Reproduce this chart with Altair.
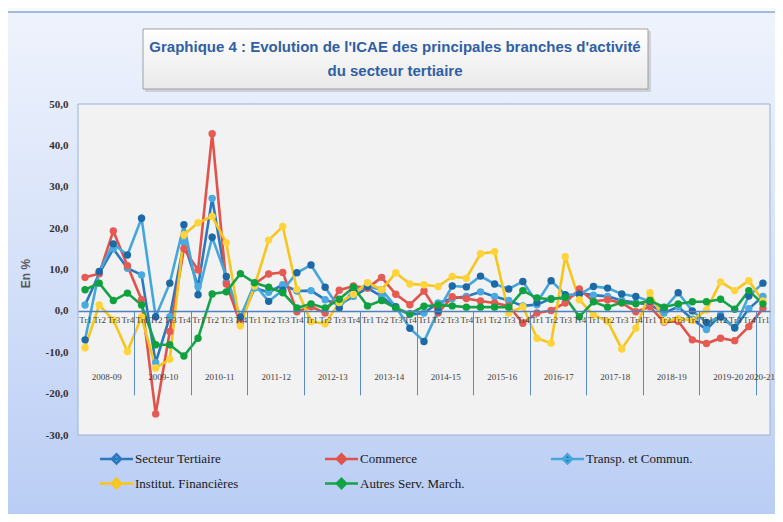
import altair as alt
import pandas as pd

# ---------------- data ----------------
years = ["2008-09", "2009-10", "2010-11", "2011-12", "2012-13", "2013-14",
         "2014-15", "2015-16", "2016-17", "2017-18", "2018-19", "2019-20", "2020-21"]
quarters = ["Tr1", "Tr2", "Tr3", "Tr4"]
series = ["Secteur Tertiaire", "Commerce", "Transp. et Commun.",
          "Institut. Financières", "Autres Serv. March."]

secteur_tertiaire = [1.4, 9.0, 15.0, 10.3, 8.7, -12.5, -1.4, 16.5, 5.9, 27.2, 7.0, -2.5,
                     5.5, 4.5, 6.3, 4.8, 4.9, 2.7, 1.5, 3.5, 5.5, 3.5, 0.7, -0.9,
                     -0.5, 1.9, 3.0, 3.5, 4.6, 3.5, 2.5, 1.2, 1.5, 3.0, 3.0, 4.3,
                     3.8, 3.5, 2.5, 2.0, 1.5, -0.5, 1.0, -2.0, -4.5, -1.0, -4.2, 0.5, 3.5]
commerce = [8.1, 9.0, 19.3, 10.9, 2.7, -24.9, -5.0, 15.0, 9.9, 42.8, 6.5, -3.0,
            6.5, 8.9, 9.3, -0.2, 1.0, -0.5, 5.0, 6.0, 5.5, 8.1, 4.0, 1.5,
            4.8, -0.5, 3.4, 3.0, 2.4, 1.9, 1.2, -3.0, -0.5, 0.1, 1.9, 5.3,
            2.3, 2.7, 1.9, -0.2, 1.0, -2.7, -2.5, -7.0, -7.9, -6.6, -7.2, -3.8, 0.6]
transp_commun = [-7.0, 9.5, 16.2, 13.5, 22.4, -1.4, 6.7, 20.8, 3.9, 17.8, 8.3, -1.5,
                 6.5, 2.3, 5.0, 9.2, 11.1, 5.7, 0.7, 5.0, 5.9, 5.1, 1.0, -4.2,
                 -7.4, 0.0, 6.0, 5.8, 8.4, 6.5, 5.3, 7.1, 2.0, 7.3, 3.9, 4.0,
                 5.9, 5.5, 4.1, 3.5, 2.3, 0.5, 4.4, 0.0, -2.8, -1.5, -4.0, 3.6, 6.7]
institut_fin = [-8.9, 1.4, -2.2, -9.8, -1.5, -13.8, -11.7, 18.4, 21.3, 22.8, 16.5, -3.6,
                6.0, 17.1, 20.4, 5.2, -2.6, -3.1, 2.0, 4.0, 6.8, 5.1, 9.2, 6.5,
                6.3, 5.9, 8.3, 7.9, 13.8, 14.3, -0.5, 1.0, -6.6, -7.8, 13.1, 2.7,
                -1.0, -2.5, -9.2, -4.2, 4.4, -2.5, -1.9, -2.3, 0.2, 7.0, 4.9, 7.3, 2.4]
autres_serv = [5.1, 6.7, 2.5, 4.3, 1.4, -8.2, -8.2, -10.9, -6.6, 4.1, 4.6, 9.0,
               6.8, 5.7, 4.4, 0.7, 1.7, 0.7, 2.8, 5.7, 1.2, 2.5, 0.7, -0.7,
               1.1, 1.4, 1.2, 0.9, 0.9, 0.9, 0.9, 4.9, 3.1, 2.8, 3.3, -1.4,
               2.2, 0.9, 2.0, 1.7, 2.5, 0.9, 1.7, 2.2, 2.2, 2.8, 0.4, 4.9, 1.7]

y_ticks = [-30, -20, -10, 0, 10, 20, 30, 40, 50]

values = [secteur_tertiaire, commerce, transp_commun, institut_fin, autres_serv]
n = len(secteur_tertiaire)
periods = [f"{years[i // 4]} {quarters[i % 4]}" for i in range(n)]

rows = []
for s, vals in zip(series, values):
    for i, v in enumerate(vals):
        rows.append({"serie": s, "idx": i, "periode": periods[i], "valeur": v})
df = pd.DataFrame(rows)

# tick positions derived from the categories
quarter_ticks = list(range(n))
separator_ticks = [4 * k - 0.5 for k in range(1, len(years))]
year_ticks = [4 * k + 1.5 for k in range(len(years) - 1)] + [n - 1 - 0.25]

# ---------------- styling ----------------
W, H = 692, 331
zero_off = -H * (0 - y_ticks[0]) / (y_ticks[-1] - y_ticks[0])

line_colors = ["#2B78BE", "#E0524A", "#45A6DC", "#F6C61C", "#16A347"]
marker_colors = ["#4AAAE0", "#E55A53", "#1D69A6", "#FFD43A", "#10A13F"]

serif = "Liberation Serif"
xscale = alt.Scale(domain=[-0.5, n - 0.5], nice=False, zero=False)
yscale = alt.Scale(domain=[y_ticks[0], y_ticks[-1]], nice=False, zero=False)

legend_path = "M-1.5,0L1.5,0M-0.42,0L0,-0.42L0.42,0L0,0.42Z"
leg = alt.Legend(orient="none", direction="horizontal", legendX=26, legendY=342,
                 columns=3, columnPadding=81, rowPadding=2,
                 symbolType=legend_path, symbolSize=484,
                 symbolStrokeWidth=2.5, labelFont=serif, labelFontSize=13,
                 labelColor="#1A1A1A", labelOffset=6, labelLimit=250,
                 title=None, zindex=1)

quarter_expr = "[" + ",".join(f"'{q}'" for q in quarters) + "][datum.value % 4]"
year_expr = "[" + ",".join(f"'{y}'" for y in years) + "][floor((datum.value + 0.5) / 4)]"
y_expr = "(datum.value < 0 ? '-' : '') + replace(format(abs(datum.value), '.1f'), '.', ',')"

one = pd.DataFrame({"k": [0]})

# background panel
bg = alt.Chart(one).mark_rect(
    fill=alt.Gradient(gradient="linear",
                      stops=[alt.GradientStop(color="#EFF3FC", offset=0),
                             alt.GradientStop(color="#D5E1F9", offset=0.45),
                             alt.GradientStop(color="#B3C8F3", offset=1)],
                      x1=0, x2=0, y1=0, y2=1),
    stroke="#86A6DA", strokeWidth=1.5
).encode(x=alt.value(-73), x2=alt.value(760), y=alt.value(-92), y2=alt.value(470))

plot_bg = alt.Chart(one).mark_rect(fill="#F2F2F2", stroke="#95B3D7", strokeWidth=1).encode(
    x=alt.value(0), x2=alt.value(W), y=alt.value(0), y2=alt.value(H))

box_shadow = alt.Chart(one).mark_rect(fill="#9A9A9A", opacity=0.35).encode(
    x=alt.value(67), x2=alt.value(573), y=alt.value(-73), y2=alt.value(-12))
box = alt.Chart(one).mark_rect(
    fill=alt.Gradient(gradient="linear",
                      stops=[alt.GradientStop(color="#FFFFFF", offset=0),
                             alt.GradientStop(color="#E9E9E9", offset=1)],
                      x1=0, x2=0, y1=0, y2=1),
    stroke="#A0A0A0", strokeWidth=1
).encode(x=alt.value(65), x2=alt.value(570), y=alt.value(-75), y2=alt.value(-15))

title_font = "Liberation Sans"
t1 = alt.Chart(one).mark_text(
    text="Graphique 4 : Evolution de l'ICAE des principales branches d'activité",
    font=title_font, fontSize=15, fontWeight="bold", color="#2F5FA5",
    align="center", baseline="middle"
).encode(x=alt.value(317), y=alt.value(-57))
t2 = alt.Chart(one).mark_text(
    text="du secteur tertiaire",
    font=title_font, fontSize=15, fontWeight="bold", color="#2F5FA5",
    align="center", baseline="middle"
).encode(x=alt.value(317), y=alt.value(-33))

y_axis = alt.Axis(values=y_ticks, labelExpr=y_expr, labelFont=serif, labelFontSize=11,
                  labelFontWeight="bold", labelColor="#333333", labelPadding=10,
                  ticks=False, domain=False, grid=False, title="En %",
                  titleFont="Liberation Sans", titleFontSize=12, titleFontWeight="bold",
                  titleColor="#595959", titleX=-53, titleY=169, titleBaseline="middle",
                  zindex=1)

quarter_axis = alt.Axis(orient="bottom", values=quarter_ticks, labelExpr=quarter_expr,
                        ticks=False, domain=True, domainColor="#4F81BD", domainWidth=1.5,
                        grid=False, offset=zero_off, labelPadding=5, labelFont=serif,
                        labelFontSize=9, labelColor="#404040", labelFlush=False,
                        labelOverlap=False, labelBound=False, title=None, zindex=1)
sep_axis = alt.Axis(orient="bottom", values=separator_ticks, labels=False, ticks=True,
                    tickSize=84, tickColor="#5B8AC8", tickWidth=1, domain=False,
                    grid=False, offset=zero_off, title=None, zindex=1)
year_axis = alt.Axis(orient="bottom", values=year_ticks, labelExpr=year_expr, ticks=False,
                     domain=False, grid=False, offset=zero_off, labelPadding=62,
                     labelFont=serif, labelFontSize=9, labelColor="#404040",
                     labelFlush=False, labelOverlap=False, labelBound=False,
                     title=None, zindex=1)

lines = alt.Chart(df).mark_line(strokeWidth=2.6).encode(
    x=alt.X("idx:Q", scale=xscale, axis=quarter_axis),
    y=alt.Y("valeur:Q", scale=yscale, axis=y_axis),
    stroke=alt.Stroke("serie:N", scale=alt.Scale(domain=series, range=line_colors), legend=leg),
    tooltip=["serie", "periode", "valeur"],
)
points = alt.Chart(df).mark_circle(size=55, opacity=1).encode(
    x=alt.X("idx:Q", scale=xscale, axis=sep_axis),
    y=alt.Y("valeur:Q", scale=yscale, axis=y_axis),
    color=alt.Color("serie:N", scale=alt.Scale(domain=series, range=marker_colors), legend=leg),
    tooltip=["serie", "periode", "valeur"],
)
year_layer = alt.Chart(df).mark_point(opacity=0).encode(
    x=alt.X("idx:Q", scale=xscale, axis=year_axis),
    y=alt.Y("valeur:Q", scale=yscale, axis=y_axis),
)

chart = alt.layer(bg, plot_bg, box_shadow, box, t1, t2, lines, points, year_layer).resolve_scale(
    x="independent"
).properties(
    width=W, height=H,
    padding={"left": 70, "top": 96, "right": 5, "bottom": 79},
    autosize="none",
    background="#F7F8FC",
).configure_view(stroke="transparent").configure_legend(
    labelFont=serif, labelFontSize=13, labelColor="#1A1A1A"
)

chart.save("out.html", embed_options={"renderer": "svg", "actions": False})
